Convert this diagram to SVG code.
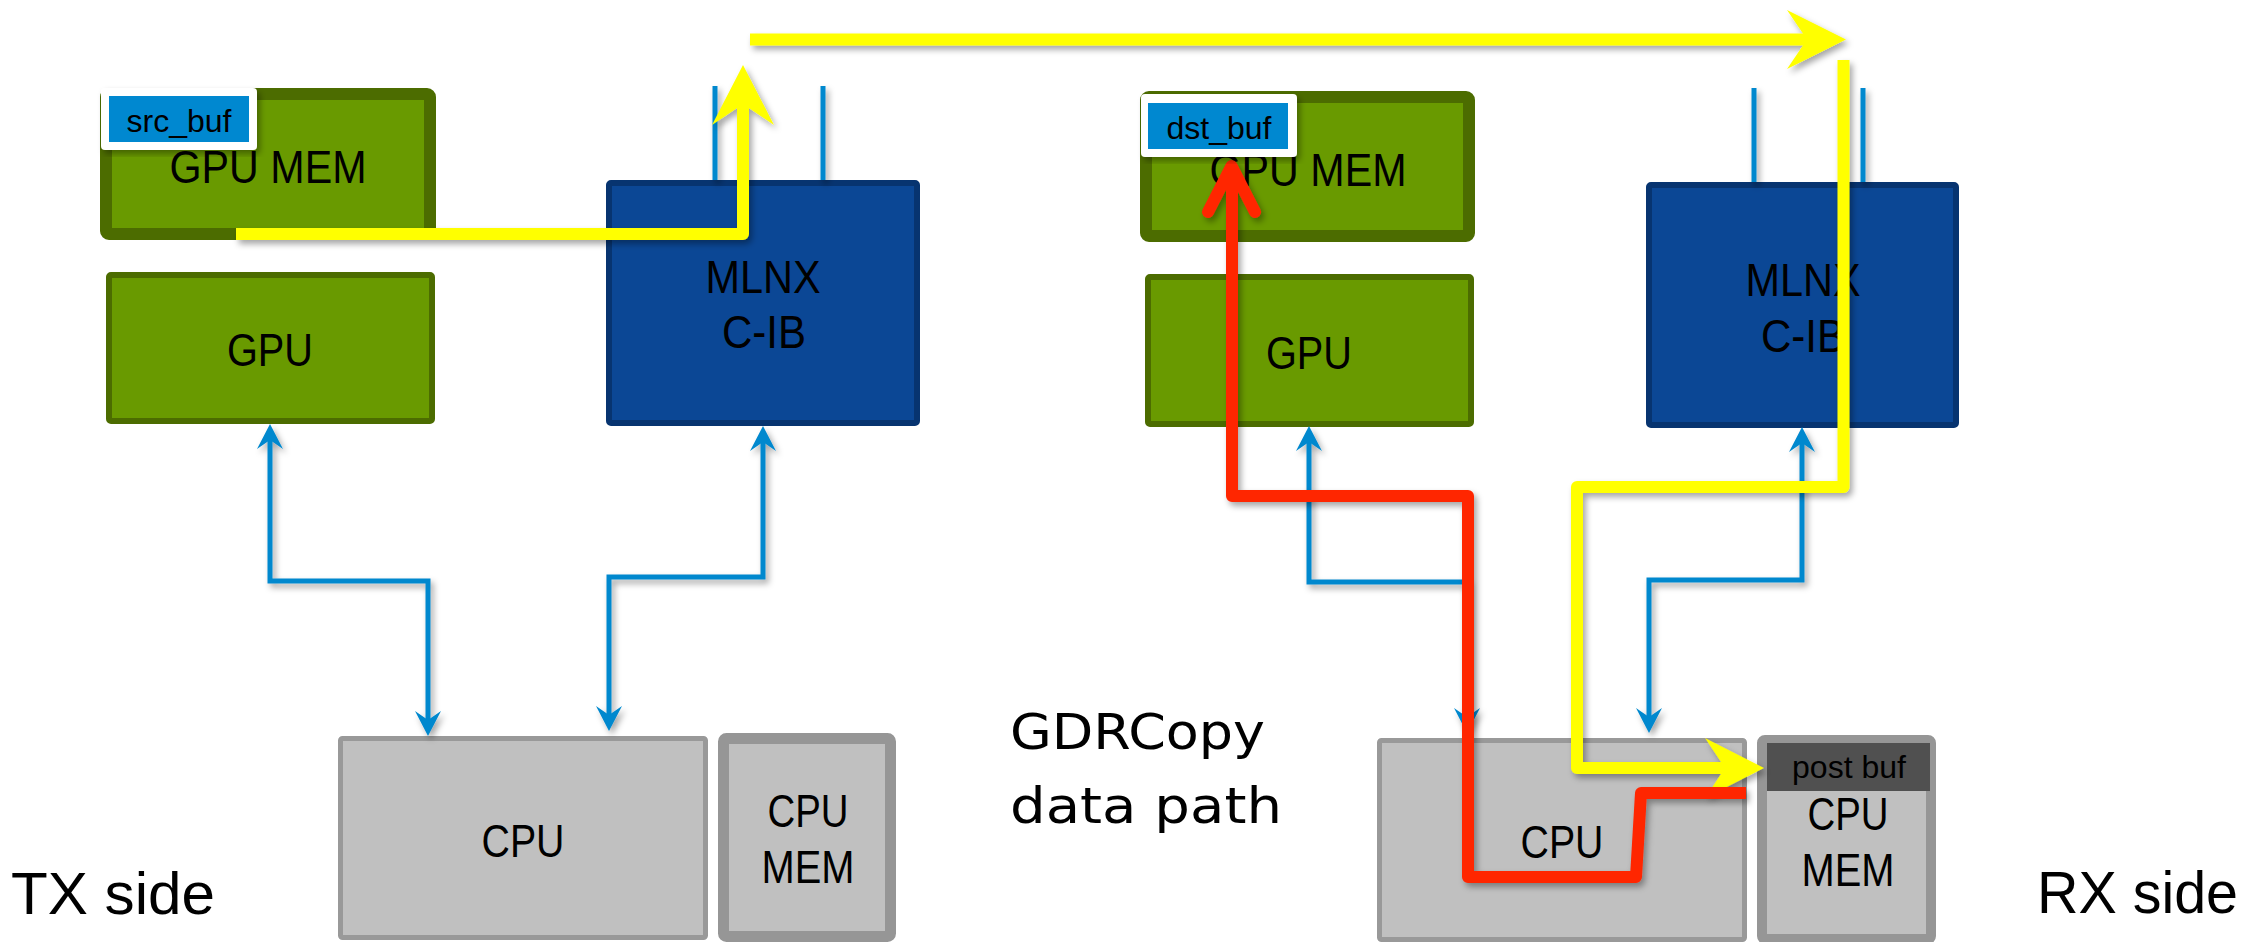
<svg xmlns="http://www.w3.org/2000/svg" width="2249" height="942" viewBox="0 0 2249 942">
<style>
.gmem{fill:#699a00;stroke:#4c6c00;stroke-width:12}
.gpu{fill:#699a00;stroke:#4c6c00;stroke-width:6}
.nic{fill:#0b4795;stroke:#073470;stroke-width:6}
.cpu{fill:#c0c0c0;stroke:#999999;stroke-width:5}
.cmem{fill:#c0c0c0;stroke:#969696;stroke-width:11}
.lbl{font-family:"Liberation Sans",Arial,sans-serif;font-size:47px;fill:#000;text-anchor:middle}
.buf{font-family:"Liberation Sans",Arial,sans-serif;font-size:32px;fill:#000;text-anchor:middle}
.side{font-family:"Liberation Sans",Arial,sans-serif;font-size:60px;fill:#000}
.cap{font-family:"DejaVu Sans",Verdana,sans-serif;font-size:50px;fill:#000}
.blue{fill:none;stroke:#0088ce;stroke-width:5}
.yel{fill:none;stroke:#ffff00;stroke-width:12;stroke-linejoin:round}
.yhead{fill:#ffff00}
.red{fill:none;stroke:#ff2600;stroke-width:12;stroke-linejoin:round}
</style>
<defs>
<filter id="sh" x="-10%" y="-10%" width="120%" height="120%">
<feDropShadow dx="3" dy="4" stdDeviation="3" flood-color="#000" flood-opacity="0.35"/>
</filter>
<marker id="ba" markerUnits="userSpaceOnUse" markerWidth="26" markerHeight="26" refX="15" refY="13" orient="auto-start-reverse" viewBox="0 0 26 26">
<path d="M0,0 L25,13 L0,26 L9,13 Z" fill="#0088ce"/>
</marker>
</defs>
<rect width="2249" height="942" fill="#fff"/>

<g id="tx-gpumem">
<rect class="gmem" x="106" y="94" width="324" height="140" rx="3"/>
<text class="lbl" x="268" y="183" textLength="197" lengthAdjust="spacingAndGlyphs">GPU MEM</text>
</g>
<g id="tx-srcbuf">
<rect x="101" y="88" width="156" height="62" rx="4" fill="#fff" filter="url(#sh)"/>
<rect x="109" y="96" width="140" height="46" fill="#0088d0"/>
<text class="buf" x="179" y="132">src_buf</text>
</g>
<g id="tx-gpu">
<rect class="gpu" x="109" y="275" width="323" height="146" rx="2"/>
<text class="lbl" x="270" y="366" textLength="86" lengthAdjust="spacingAndGlyphs">GPU</text>
</g>
<g id="tx-nic">
<rect class="nic" x="609" y="183" width="308" height="240" rx="2"/>
<text class="lbl" x="763" y="293" textLength="115" lengthAdjust="spacingAndGlyphs">MLNX</text>
<text class="lbl" x="764" y="348" textLength="84" lengthAdjust="spacingAndGlyphs">C-IB</text>
</g>
<g id="tx-cpu">
<rect class="cpu" x="340.5" y="738.5" width="365" height="199" rx="2"/>
<text class="lbl" x="523" y="857" textLength="83" lengthAdjust="spacingAndGlyphs">CPU</text>
</g>
<g id="tx-cpumem">
<rect class="cmem" x="723.5" y="738.5" width="167" height="198" rx="3"/>
<text class="lbl" x="808" y="827" textLength="81" lengthAdjust="spacingAndGlyphs">CPU</text>
<text class="lbl" x="808" y="883" textLength="93" lengthAdjust="spacingAndGlyphs">MEM</text>
</g>

<g id="rx-gpumem">
<rect class="gmem" x="1146" y="97" width="323" height="139" rx="3"/>
<text class="lbl" x="1308" y="186" textLength="197" lengthAdjust="spacingAndGlyphs">GPU MEM</text>
</g>
<g id="rx-gpu">
<rect class="gpu" x="1148" y="277" width="323" height="147" rx="2"/>
<text class="lbl" x="1309" y="369" textLength="86" lengthAdjust="spacingAndGlyphs">GPU</text>
</g>
<g id="rx-nic">
<rect class="nic" x="1649" y="185" width="307" height="240" rx="2"/>
<text class="lbl" x="1803" y="296" textLength="115" lengthAdjust="spacingAndGlyphs">MLNX</text>
<text class="lbl" x="1803" y="352" textLength="84" lengthAdjust="spacingAndGlyphs">C-IB</text>
</g>
<g id="rx-cpu">
<rect class="cpu" x="1379.5" y="740.5" width="365" height="199" rx="2"/>
<text class="lbl" x="1562" y="858" textLength="83" lengthAdjust="spacingAndGlyphs">CPU</text>
</g>
<g id="rx-cpumem">
<rect class="cmem" x="1762" y="740" width="169" height="199" rx="3" style="stroke-width:10"/>
<rect x="1767" y="743" width="163" height="48" fill="#505050"/>
<text class="buf" x="1849" y="778">post buf</text>
<text class="lbl" x="1848" y="830" textLength="81" lengthAdjust="spacingAndGlyphs">CPU</text>
<text class="lbl" x="1848" y="886" textLength="93" lengthAdjust="spacingAndGlyphs">MEM</text>
</g>

<g id="labels">
<text class="side" x="11" y="914" textLength="204" lengthAdjust="spacingAndGlyphs">TX side</text>
<text class="side" x="2037" y="913" textLength="201" lengthAdjust="spacingAndGlyphs">RX side</text>
<text class="cap" x="1010" y="749" textLength="255" lengthAdjust="spacingAndGlyphs">GDRCopy</text>
<text class="cap" x="1010" y="823" textLength="272" lengthAdjust="spacingAndGlyphs">data path</text>
</g>

<g id="connectors">
<g filter="url(#sh)">
<path class="blue" d="M270,434 V581 H428 V726" marker-start="url(#ba)" marker-end="url(#ba)"/>
<path class="blue" d="M763,436 V577 H609 V721" marker-start="url(#ba)" marker-end="url(#ba)"/>
<path class="blue" d="M1309,436 V582 H1467 V723" marker-start="url(#ba)" marker-end="url(#ba)"/>
<path class="blue" d="M1802,437 V580 H1649 V723" marker-start="url(#ba)" marker-end="url(#ba)"/>
<path class="blue" d="M715,86 V180 M823,86 V180 M1754,88 V182 M1863,88 V182"/>
</g>
<g id="yellow-path" filter="url(#sh)">
<path class="yel" d="M236,234 H743 V104"/>
<polygon class="yhead" points="743,65 774,125 743,104 712,125"/>
<path class="yel" d="M750,39.5 H1808"/>
<polygon class="yhead" points="1846,39.5 1787,10 1807,39.5 1787,69"/>
<path class="yel" d="M1843.5,60 V487 H1577 V768 H1726"/>
<polygon class="yhead" points="1764,768 1705,738 1725,768 1705,798"/>
</g>
<g id="red-path" filter="url(#sh)">
<path class="red" d="M1746,793 H1641 L1636,877 H1468 V496 H1232 V170"/>
<path class="red" d="M1208,212 L1231.5,166 L1255,212" stroke-linecap="round"/>
</g>
</g>

<g id="rx-dstbuf">
<rect x="1141" y="94" width="156" height="63" rx="4" fill="#fff" filter="url(#sh)"/>
<rect x="1148" y="103" width="140" height="46" fill="#0088d0"/>
<text class="buf" x="1219" y="139">dst_buf</text>
</g>
</svg>
